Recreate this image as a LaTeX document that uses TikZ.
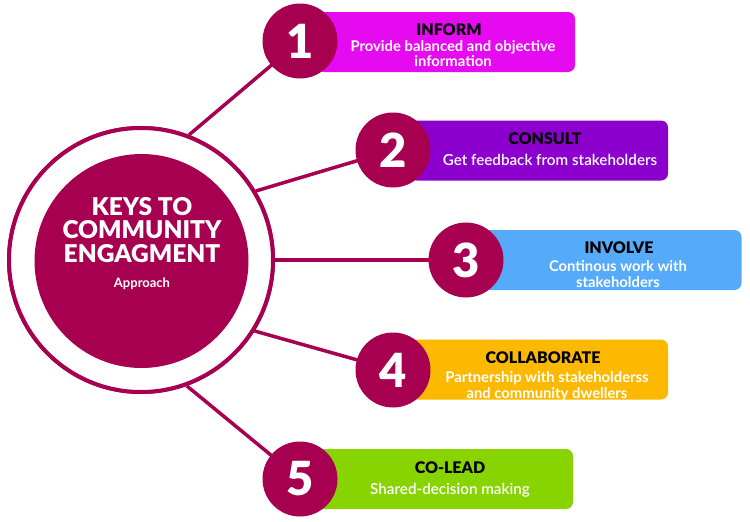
\documentclass[tikz,border=0pt]{standalone}
\usepackage{fontspec}
\setmainfont{Lato}
\newfontfamily\heavyfont{Lato Black}
\newfontfamily\semifont{Lato Semibold}
\definecolor{crim}{RGB}{168,0,80}
\definecolor{cmag}{RGB}{230,10,240}
\definecolor{cpur}{RGB}{140,0,205}
\definecolor{cblu}{RGB}{85,170,250}
\definecolor{cora}{RGB}{252,185,0}
\definecolor{cgre}{RGB}{136,212,0}
\begin{document}
\begin{tikzpicture}[x=1pt,y=-1pt,
  numc/.style={circle,fill=crim,minimum size=75pt,inner sep=0pt,text=white,font=\fontsize{47}{47}\selectfont\heavyfont},
  barbox/.style={rectangle,rounded corners=7pt,minimum width=258pt,minimum height=60pt,inner sep=0pt},
  conn/.style={draw=crim,line width=3.5pt},
  ttl/.style={font=\fontsize{16}{16}\selectfont\heavyfont,text=black,inner sep=0pt},
  sub/.style={font=\fontsize{14.8}{15.5}\selectfont\bfseries,text=white,align=center,inner sep=0pt},
  subr/.style={font=\fontsize{15.2}{16}\selectfont\semifont,text=white,align=center,inner sep=0pt}]
\useasboundingbox (0,0) rectangle (750,522);
\fill[white] (0,0) rectangle (750,522);
% big ring
\node[circle,draw=crim,line width=4pt,fill=white,minimum size=264pt,inner sep=0pt] (ring) at (141,260) {};
% bars
\node[barbox,fill=cmag] (b1) at (446,42) {};
\node[barbox,fill=cpur] (b2) at (539,150.5) {};
\node[barbox,fill=cblu] (b3) at (612.5,260) {};
\node[barbox,fill=cora] (b4) at (539,369.5) {};
\node[barbox,fill=cgre,minimum width=256pt] (b5) at (445,479) {};
% number circles positions
\coordinate (p1) at (300,41);
\coordinate (p2) at (393,150);
\coordinate (p3) at (466,260);
\coordinate (p4) at (393,370);
\coordinate (p5) at (300,479);
% connectors
\draw[conn] (ring.69) -- (p1);
\draw[conn] (ring.31) -- (p2);
\draw[conn] (ring.0) -- (p3);
\draw[conn] (ring.-32) -- (p4);
\draw[conn] (ring.-70) -- (p5);
% redraw ring over line ends
\node[circle,draw=crim,line width=4pt,fill=white,minimum size=264pt,inner sep=0pt] (ring2) at (141,260) {};
\node[circle,fill=crim,minimum size=214pt,inner sep=0pt] (core) at (141.5,261) {};
\node[font=\fontsize{24.5}{23.5}\selectfont\heavyfont,text=white,align=center,inner sep=0pt] (title) at (142,230) {KEYS TO\\COMMUNITY\\ENGAGMENT};
\node[font=\fontsize{13}{13}\selectfont\bfseries,text=white,inner sep=0pt] (appr) at (142,284) {Approach};
% number circles
\node[numc] (n1) at (p1) {1};
\node[numc] (n2) at (p2) {2};
\node[numc] (n3) at (p3) {3};
\node[numc] (n4) at (p4) {4};
\node[numc] (n5) at (p5) {5};
% texts
\node[ttl] (t1) at (449,30) {INFORM};
\node[sub] (s1) at (453,53.5) {Provide balanced and objective\\information};
\node[ttl] (t2) at (545,139) {CONSULT};
\node[subr] (s2) at (550,160) {Get feedback from stakeholders};
\node[ttl] (t3) at (619,248) {INVOLVE};
\node[sub] (s3) at (618,274) {Continous work with\\stakeholders};
\node[ttl] (t4) at (543,358) {COLLABORATE};
\node[sub] (s4) at (547,386) {Partnership with stakeholderss\\and community dwellers};
\node[ttl] (t5) at (450,468) {CO-LEAD};
\node[subr] (s5) at (450,490) {Shared-decision making};
\end{tikzpicture}
\end{document}
